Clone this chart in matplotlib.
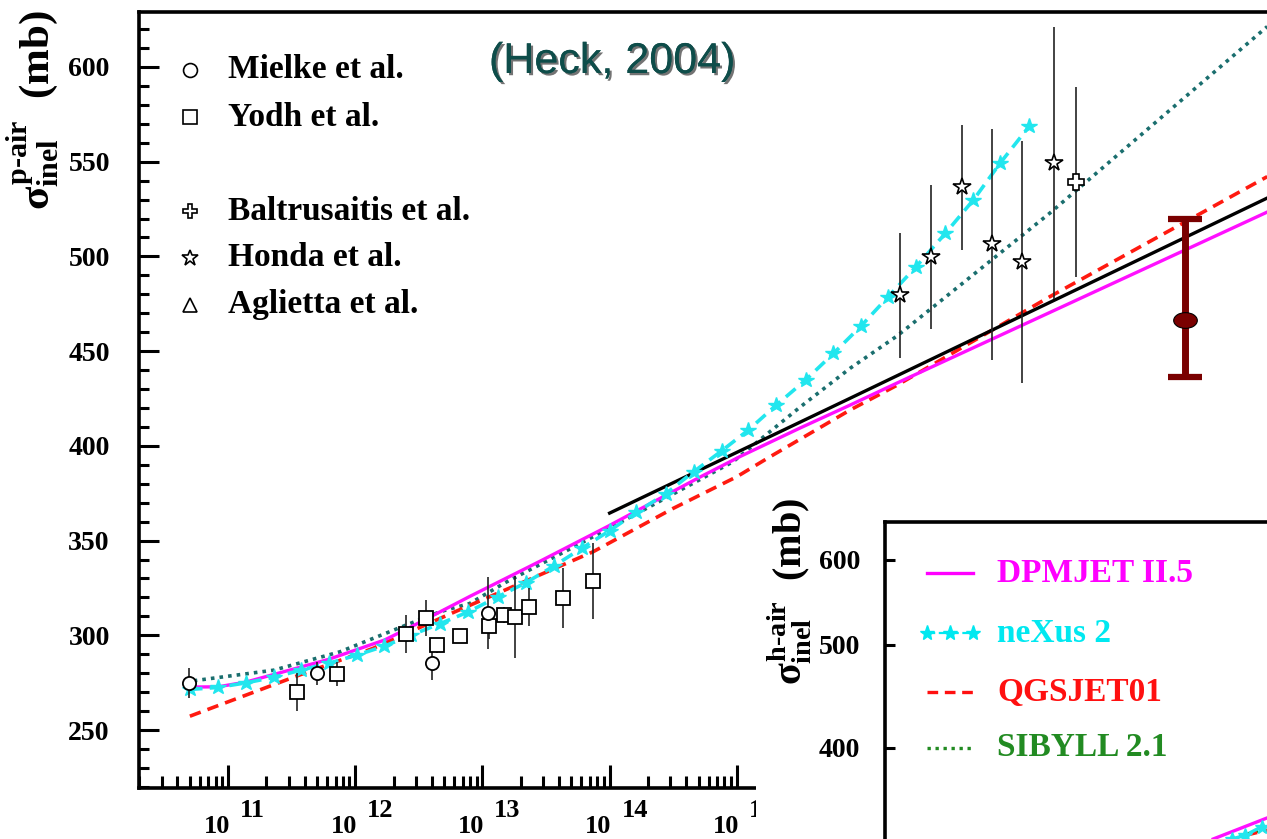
"""
Section efficace inelastique p-air en fonction de l'energie (eV),
modeles hadroniques vs mesures, avec encart sigma h-air (log).
"""
import numpy as np
import matplotlib
matplotlib.use("Agg")
import matplotlib.pyplot as plt
import matplotlib.patheffects as pe
from matplotlib.patches import Rectangle
from matplotlib.path import Path
from matplotlib.ticker import LogLocator, MultipleLocator, NullLocator, FixedLocator

plt.rcParams["font.family"] = "Liberation Serif"
plt.rcParams["font.weight"] = "bold"
plt.rcParams["mathtext.fontset"] = "custom"
plt.rcParams["mathtext.rm"] = "Liberation Serif:bold"
plt.rcParams["mathtext.it"] = "Liberation Serif:bold"
plt.rcParams["mathtext.bf"] = "Liberation Serif:bold"

# ---- mesures (log10 E [eV], sigma [mb], erreur [mb]) ----
mielke_logE = [10.69, 11.70, 12.60, 13.04]
mielke_sig = [274.8, 280.0, 285.5, 311.7]
mielke_err = [8, 6, 9, 19]

yodh_logE = [11.54, 11.86, 12.40, 12.56, 12.64, 12.82, 13.05, 13.17, 13.26, 13.37, 13.63, 13.87]
yodh_sig = [270.0, 279.5, 300.5, 309.1, 294.8, 299.6, 304.9, 310.7, 309.7, 314.9, 319.6, 328.6]
yodh_err = [10, 6.5, 10, 9.5, 4, 3, 7, 4, 21.5, 10, 16, 20]

honda_logE = [16.28, 16.53, 16.77, 17.01, 17.24, 17.49]
honda_sig = [479.6, 499.7, 536.6, 506.5, 497.0, 549.3]
honda_err = [33, 38, 33, 61, 64, 72]

baltru_logE = [17.67]
baltru_sig = [539.3]
baltru_err = [50]

heck_logE = [18.52]
heck_sig = [466.4]
heck_err_lo = [30.1]
heck_err_hi = [53.3]

# ---- modeles ----
dpmjet_logE = [10.70, 10.92, 11.14, 11.57, 11.79, 12.23, 12.44, 12.67, 12.90, 13.45,
               13.98, 14.50, 14.71, 15.03, 15.50, 15.89, 16.28, 19.17]
dpmjet_sig = [272.7, 272.8, 275.3, 283.2, 287.3, 297.5, 304.5, 312.5, 320.5, 339.0,
              357.3, 376.0, 383.5, 394.5, 409.5, 421.5, 433.8, 523.4]

nexus_logE = [10.70, 10.92, 11.14, 11.36, 11.57, 11.79, 12.01, 12.23, 12.44, 12.67,
              12.89, 13.12, 13.34, 13.56, 13.78, 14.00, 14.21, 14.44, 14.66, 14.88,
              15.09, 15.31, 15.54, 15.76, 15.98, 16.19, 16.41, 16.64, 16.86, 17.07, 17.30]
nexus_sig = [271.4, 272.5, 274.9, 277.8, 281.6, 285.2, 289.5, 294.3, 300.1, 306.2,
             312.4, 320.3, 327.7, 336.5, 345.9, 355.2, 364.9, 374.7, 386.3, 397.3,
             408.3, 421.5, 434.7, 448.8, 463.5, 478.7, 494.6, 512.2, 529.8, 549.2, 568.8]

qgsjet_logE = [10.70, 11.54, 12.14, 12.76, 13.87, 14.50, 15.00, 15.24, 15.89, 16.26, 17.46, 19.17]
qgsjet_sig = [257.3, 278.5, 293.1, 311.7, 344.1, 367.0, 383.7, 393.4, 418.9, 432.0, 478.7, 542.1]

sibyll_logE = [10.73, 11.36, 11.88, 12.40, 12.67, 12.90, 13.19, 13.72, 14.24, 14.97,
               15.50, 15.89, 16.26, 17.46, 19.17]
sibyll_sig = [276.0, 281.6, 291.3, 305.4, 312.5, 316.8, 328.2, 346.7, 365.2, 391.6,
              420.6, 440.9, 458.0, 522.8, 621.3]

other_logE = [14.00, 15.89, 19.17]
other_sig = [364.5, 425.1, 530.8]

# ---- encart h-air (morceau visible) ----
inset_dpm_logE = [16.47, 17.37]
inset_dpm_sig = [328.7, 344.0]
inset_nex_logE = [16.78, 17.00, 17.28]
inset_nex_sig = [328.7, 331.3, 337.6]
inset_sib_logE = [16.78, 17.37]
inset_sib_sig = [328.7, 336.5]
inset_qgs_logE = [17.03, 17.37]
inset_qgs_sig = [331.5, 335.0]

data_labels = ["Mielke et al.", "Yodh et al.", "", "Baltrusaitis et al.", "Honda et al.", "Aglietta et al."]
data_markers = ["o", "s", None, "P", "*", "^"]
model_labels = ["DPMJET II.5", "neXus 2", "QGSJET01", "SIBYLL 2.1"]
model_colors = ["#ff00ff", "#00e8f0", "#ff1010", "#228b22"]
decades = [11, 12, 13, 14, 15]

MAGENTA, CYAN, RED, TEAL = "#ff10ff", "#22e6ee", "#ff1a10", "#1a6e6e"
W, H = 1267, 839


def fx(px):
    return px / W


def fy(py):
    return 1 - py / H


def E(logs):
    return np.power(10.0, logs)


fig = plt.figure(figsize=(W / 100, H / 100), dpi=100)
fig.patch.set_facecolor("white")

# ------------------------------------------------------------ axe principal
ax = fig.add_axes([fx(139), fy(788), 1170.2 / W, (788 - 12) / H])
ax.set_xscale("log")
ax.set_xlim(E(10.30), E(19.50))
ax.set_ylim(219.4, 629.0)
for s in ["left", "bottom", "top"]:
    ax.spines[s].set_linewidth(2.6)
ax.spines["right"].set_visible(False)

ax.yaxis.set_major_locator(MultipleLocator(50))
ax.yaxis.set_minor_locator(MultipleLocator(10))
ax.xaxis.set_major_locator(LogLocator(base=10, numticks=30))
ax.xaxis.set_minor_locator(LogLocator(base=10, subs=np.arange(2, 10), numticks=200))
ax.tick_params(axis="y", which="major", direction="in", length=14.5, width=2.2,
               pad=21, labelsize=20, right=False)
ax.tick_params(axis="y", which="minor", direction="in", length=7.2, width=2.2, right=False)
ax.tick_params(axis="x", which="major", direction="in", length=16.5, width=2.2, top=False)
ax.tick_params(axis="x", which="minor", direction="in", length=8.6, width=2.2, top=False)
ax.set_xticklabels([])
ax.xaxis.set_minor_formatter(plt.NullFormatter())
for lab in ax.get_yticklabels():
    lab.set_fontweight("bold")

# etiquettes "10 ^k" facon ROOT
for k in decades:
    ax.annotate("10", xy=(E(k), 0), xycoords=("data", "axes fraction"),
                xytext=(1.5, -32.5), textcoords="offset points",
                ha="right", va="baseline", fontsize=19, annotation_clip=False)
    ax.annotate(str(k), xy=(E(k), 0), xycoords=("data", "axes fraction"),
                xytext=(8.5, -21), textcoords="offset points",
                ha="left", va="baseline", fontsize=19, annotation_clip=False)

# courbes de modeles
ax.plot(E(sibyll_logE), sibyll_sig, color=TEAL, lw=2.6, linestyle=(0, (1, 1.4)),
        dash_capstyle="butt", zorder=3)
ax.plot(E(qgsjet_logE), qgsjet_sig, color=RED, lw=2.6, linestyle=(0, (3.2, 2.0)), zorder=3)
ax.plot(E(dpmjet_logE), dpmjet_sig, color=MAGENTA, lw=2.4, zorder=4)
ax.plot(E(other_logE), other_sig, color="black", lw=2.4, zorder=4)
ax.plot(E(nexus_logE), nexus_sig, color=CYAN, lw=2.6, linestyle=(0, (3.5, 2.0)),
        marker="*", ms=11.5, mec=CYAN, mfc=CYAN, zorder=5)

# mesures
ekw = dict(ecolor="#222222", elinewidth=1.2, capsize=0, ls="none", zorder=6)
ax.errorbar(E(yodh_logE), yodh_sig, yerr=yodh_err, marker="s", ms=9.5, mfc="white",
            mec="black", mew=1.3, **ekw)
ax.errorbar(E(mielke_logE), mielke_sig, yerr=mielke_err, marker="o", ms=9.5, mfc="white",
            mec="black", mew=1.3, **ekw)
ax.errorbar(E(honda_logE), honda_sig, yerr=honda_err, marker="*", ms=13, mfc="white",
            mec="black", mew=1.2, **ekw)
ax.errorbar(E(baltru_logE), baltru_sig, yerr=baltru_err, marker="P", ms=11, mfc="white",
            mec="black", mew=1.2, **ekw)

# point "Heck 2004" : grande barre d'erreur rouge fonce + ellipse
ax.errorbar(E(heck_logE), heck_sig, yerr=[heck_err_lo, heck_err_hi], fmt="none",
            ecolor="#7a0000", elinewidth=5, capsize=12, capthick=4.5, zorder=7)
circ = Path.unit_circle()
oval = Path(circ.vertices * np.array([1.5, 1.0]), circ.codes)
ax.plot(E(heck_logE), heck_sig, ls="none", marker=oval, ms=17, mfc="#7a0000",
        mec="black", mew=0.8, zorder=8)

# legende des mesures
rows = [70, 117, 163, 211, 258, 305]
for lab, mk, py in zip(data_labels, data_markers, rows):
    if mk is None:
        continue
    ms = 12 if mk == "*" else 10
    ax.plot([fx(190)], [fy(py)], marker=mk, ms=ms, mfc="white", mec="black", mew=1.2,
            transform=fig.transFigure, clip_on=False, ls="none")
    fig.text(fx(228), fy(py), lab, fontsize=24, fontweight="bold", va="center", ha="left")

fig.text(fx(612), fy(62), "(Heck, 2004)", fontsize=31, family="Liberation Sans",
         fontweight="normal", color="#0e4d4a", ha="center", va="center",
         path_effects=[pe.withSimplePatchShadow(offset=(1.6, -1.6), shadow_rgbFace="black",
                                                alpha=0.55), pe.Normal()])

fig.text(fx(33), fy(110), r"$\sigma^{\text{p-air}}_{\text{inel}}$  (mb)", rotation=90,
         ha="center", va="center", fontsize=31, fontweight="bold")

# ------------------------------------------------------------ encart h-air
cover = Rectangle((fx(756), 0), 1, fy(478), transform=fig.transFigure,
                  facecolor="white", edgecolor="none", zorder=5)
fig.add_artist(cover)

axi = fig.add_axes([fx(885), fy(899), 600 / W, (899 - 522) / H])
axi.set_zorder(6)
axi.set_yscale("log")
axi.set_ylim(288.8, 651.2)
axi.set_xlim(11, 21)
for s in ["right", "bottom"]:
    axi.spines[s].set_visible(False)
for s in ["left", "top"]:
    axi.spines[s].set_linewidth(2.6)
axi.yaxis.set_major_locator(FixedLocator([400, 500, 600]))
axi.yaxis.set_minor_locator(NullLocator())
axi.yaxis.set_major_formatter(plt.FuncFormatter(lambda v, p: f"{v:.0f}"))
axi.set_xticks([])
axi.tick_params(axis="y", which="major", direction="in", length=7.5, width=2.2,
                pad=18, labelsize=20, right=False)
for lab in axi.get_yticklabels():
    lab.set_fontweight("bold")

axi.plot(inset_sib_logE, inset_sib_sig, color="#228b22", lw=2.4, linestyle=(0, (1, 1.4)))
axi.plot(inset_qgs_logE, inset_qgs_sig, color=RED, lw=2.4, linestyle=(0, (3.2, 2.0)))
axi.plot(inset_dpm_logE, inset_dpm_sig, color=MAGENTA, lw=2.4)
axi.plot(inset_nex_logE, inset_nex_sig, color=CYAN, lw=2.4, linestyle=(0, (3.5, 2.0)),
         marker="*", ms=10)

# legende des modeles
styles = [dict(ls="-"), dict(ls=(0, (3.5, 1.5))), dict(ls=(0, (3.2, 2.0))), dict(ls=(0, (1, 1.4)))]
lrows = [573, 633, 692, 748]
for lab, col, st, py in zip(model_labels, model_colors, styles, lrows):
    y = fy(py)
    if lab.startswith("neXus"):
        axi.plot([fx(927), fx(950), fx(973)], [y, y, y], color=col, lw=1.6, ls="--",
                 marker="*", ms=11, transform=fig.transFigure, clip_on=False)
    else:
        axi.plot([fx(927), fx(973)], [y, y], color=col, lw=2.4, transform=fig.transFigure,
                 clip_on=False, dash_capstyle="butt", **st)
    axi.text(fx(997), y, lab, color=col, fontsize=24, fontweight="bold", ha="left",
             va="center", transform=fig.transFigure)

fig.text(fx(790), fy(591), r"$\sigma_{\text{inel}}^{\text{h-air}}$  (mb)", rotation=90,
         ha="center", va="center", fontsize=29, fontweight="bold", zorder=7)

fig.savefig("out.png", dpi=100)
